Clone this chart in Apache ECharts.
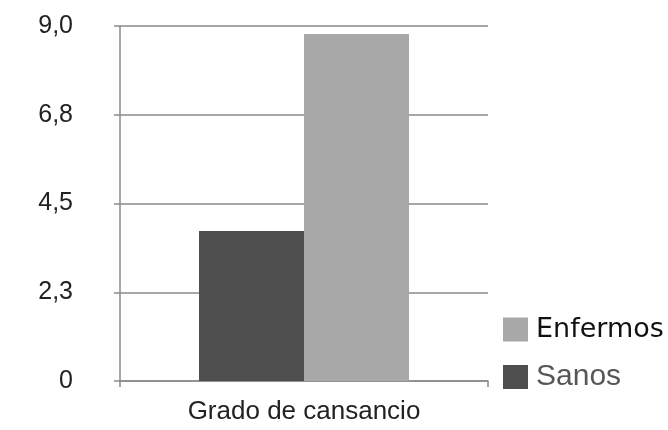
<!DOCTYPE html>
<html>
<head>
<meta charset="utf-8">
<script src="https://cdn.jsdelivr.net/npm/echarts@6/dist/echarts.min.js"></script>
<style>
  html, body { margin: 0; padding: 0; background: #fff; }
  #chart { width: 668px; height: 430px; }
</style>
</head>
<body>
<div id="chart"></div>
<script>
// Grado de cansancio: sanos vs. enfermos
var categories = ['Grado de cansancio'];
var sanos = [3.8];
var enfermos = [8.8];
var yTickLabels = ['0', '2,3', '4,5', '6,8', '9,0'];
var yMax = 9;
var yStep = 2.25;

var lineColor = '#8a8a8a';

var chart = echarts.init(document.getElementById('chart'), null, { renderer: 'canvas' });

chart.setOption({
  animation: false,
  backgroundColor: '#ffffff',
  grid: { left: 120, right: 180, top: 26, bottom: 49, containLabel: false },
  legend: {
    orient: 'vertical',
    left: 503,
    top: 316,
    padding: 0,
    itemWidth: 25,
    itemHeight: 24,
    itemGap: 19,
    icon: 'rect',
    data: ['Enfermos', 'Sanos'],
    formatter: function (name) {
      return name === 'Sanos' ? '{s|' + name + '}' : '{e|' + name + '}';
    },
    textStyle: {
      padding: [0, 0, 0, 3],
      rich: {
        e: { fontFamily: 'DejaVu Sans', fontSize: 27, lineHeight: 24, color: '#111111' },
        s: { fontFamily: 'Liberation Sans', fontSize: 30, lineHeight: 24, color: '#575757' }
      }
    }
  },
  xAxis: {
    type: 'category',
    data: categories,
    axisLine: { show: true, lineStyle: { color: lineColor, width: 1.5 } },
    axisTick: { show: true, length: 6, lineStyle: { color: lineColor, width: 1.5 } },
    axisLabel: {
      margin: 18,
      fontFamily: 'Liberation Sans',
      fontSize: 26,
      color: '#222222'
    }
  },
  yAxis: {
    type: 'value',
    min: 0,
    max: yMax,
    interval: yStep,
    axisLine: { show: true, lineStyle: { color: lineColor, width: 1.5 } },
    axisTick: { show: true, length: 6, lineStyle: { color: lineColor, width: 1.5 } },
    splitLine: { show: true, lineStyle: { color: lineColor, width: 1.5 } },
    axisLabel: {
      margin: 47,
      fontFamily: 'Liberation Sans',
      fontSize: 25,
      color: '#222222',
      formatter: function (v) {
        return yTickLabels[Math.round(v / yStep)];
      }
    }
  },
  series: [
    {
      name: 'Sanos',
      type: 'bar',
      data: sanos,
      barWidth: 105,
      barGap: '0%',
      itemStyle: { color: '#4f4f4f' }
    },
    {
      name: 'Enfermos',
      type: 'bar',
      data: enfermos,
      barWidth: 105,
      barGap: '0%',
      itemStyle: { color: '#a8a8a8' }
    }
  ]
});
</script>
</body>
</html>
